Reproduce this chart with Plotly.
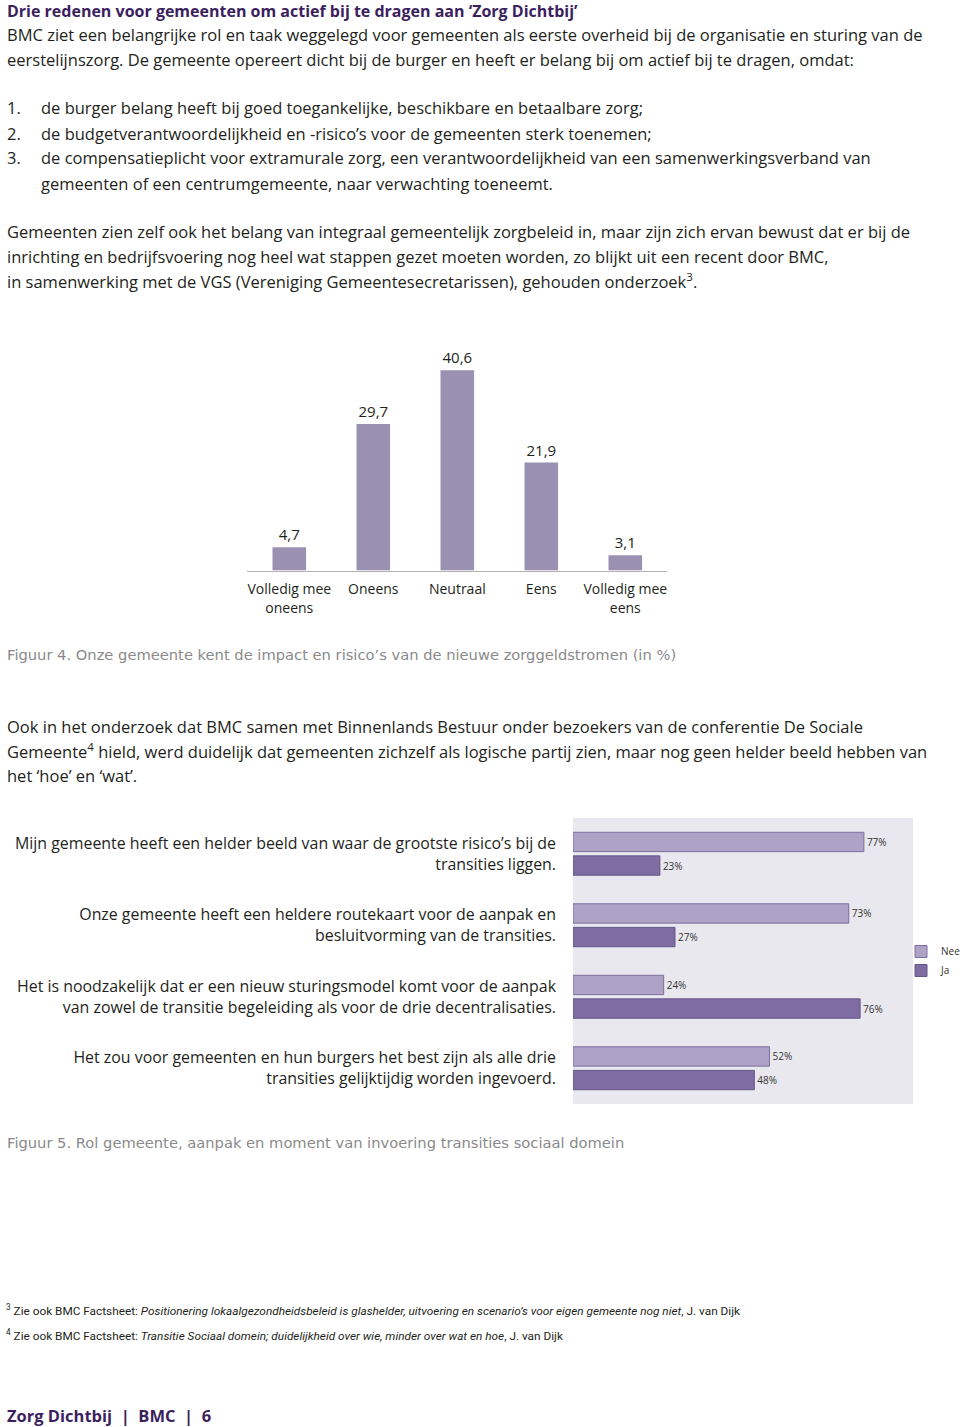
import plotly.graph_objects as go

W, H = 960, 1427

# ---------------- data ----------------
fig4_categories = ["Volledig mee<br>oneens", "Oneens", "Neutraal", "Eens", "Volledig mee<br>eens"]
fig4_values = [4.7, 29.7, 40.6, 21.9, 3.1]
fig4_labels = ["4,7", "29,7", "40,6", "21,9", "3,1"]

fig5_statements = [
    "Mijn gemeente heeft een helder beeld van waar de grootste risico’s bij de<br>transities liggen.",
    "Onze gemeente heeft een heldere routekaart voor de aanpak en<br>besluitvorming van de transities.",
    "Het is noodzakelijk dat er een nieuw sturingsmodel komt voor de aanpak<br>van zowel de transitie begeleiding als voor de drie decentralisaties.",
    "Het zou voor gemeenten en hun burgers het best zijn als alle drie<br>transities gelijktijdig worden ingevoerd.",
]
fig5_nee = [77, 73, 24, 52]
fig5_ja = [23, 27, 76, 48]

heading = "Drie redenen voor gemeenten om actief bij te dragen aan ‘Zorg Dichtbij’"
intro_lines = [
    "BMC ziet een belangrijke rol en taak weggelegd voor gemeenten als eerste overheid bij de organisatie en sturing van de",
    "eerstelijnszorg. De gemeente opereert dicht bij de burger en heeft er belang bij om actief bij te dragen, omdat:",
]
list_numbers = ["1.", "2.", "3.", ""]
list_lines = [
    "de burger belang heeft bij goed toegankelijke, beschikbare en betaalbare zorg;",
    "de budgetverantwoordelijkheid en -risico’s voor de gemeenten sterk toenemen;",
    "de compensatieplicht voor extramurale zorg, een verantwoordelijkheid van een samenwerkingsverband van",
    "gemeenten of een centrumgemeente, naar verwachting toeneemt.",
]
para1_lines = [
    "Gemeenten zien zelf ook het belang van integraal gemeentelijk zorgbeleid in, maar zijn zich ervan bewust dat er bij de",
    "inrichting en bedrijfsvoering nog heel wat stappen gezet moeten worden, zo blijkt uit een recent door BMC,",
    "in samenwerking met de VGS (Vereniging Gemeentesecretarissen), gehouden onderzoek<sup>3</sup>.",
]
caption4 = "Figuur 4. Onze gemeente kent de impact en risico’s van de nieuwe zorggeldstromen (in %)"
para2_lines = [
    "Ook in het onderzoek dat BMC samen met Binnenlands Bestuur onder bezoekers van de conferentie De Sociale",
    "Gemeente<sup>4</sup> hield, werd duidelijk dat gemeenten zichzelf als logische partij zien, maar nog geen helder beeld hebben van",
    "het ‘hoe’ en ‘wat’.",
]
caption5 = "Figuur 5. Rol gemeente, aanpak en moment van invoering transities sociaal domein"
footnotes = [
    "<sup>3</sup> Zie ook BMC Factsheet: <i>Positionering lokaalgezondheidsbeleid is glashelder, uitvoering en scenario’s voor eigen gemeente nog niet</i>, J. van Dijk",
    "<sup>4</sup> Zie ook BMC Factsheet: <i>Transitie Sociaal domein; duidelijkheid over wie, minder over wat en hoe</i>, J. van Dijk",
]
footer = "Zorg Dichtbij  |  BMC  |  6"

# ---------------- styles ----------------
BODY_FONT = "Open Sans"
BODY_SIZE = 16.5
TEXT = "#231f20"
PURPLE = "#3c1f5e"
GREY = "#8a8a8a"


def px(x):
    return x / W


def py(y):
    return 1 - y / H


fig = go.Figure()

# Figure 4: vertical bars
fig.add_trace(go.Bar(
    x=fig4_categories, y=fig4_values, text=fig4_labels,
    textposition="outside", cliponaxis=False, width=0.4,
    marker=dict(color="#9a90b1", line=dict(width=0)),
    textfont=dict(family=BODY_FONT, size=15, color=TEXT),
    xaxis="x", yaxis="y", showlegend=False, hoverinfo="skip",
))

# Figure 5: horizontal grouped bars
fig.add_trace(go.Bar(
    y=fig5_statements, x=fig5_nee, name="Nee", orientation="h",
    text=[f"{v}%" for v in fig5_nee], textposition="outside", cliponaxis=False,
    marker=dict(color="#aea3c7", line=dict(color="#7d6f9e", width=1)),
    textfont=dict(family="Open Sans", size=10, color="#333333"),
    xaxis="x2", yaxis="y2",
))
fig.add_trace(go.Bar(
    y=fig5_statements, x=fig5_ja, name="Ja", orientation="h",
    text=[f"{v}%" for v in fig5_ja], textposition="outside", cliponaxis=False,
    marker=dict(color="#7f6ca3", line=dict(color="#65568a", width=1)),
    textfont=dict(family="Open Sans", size=10, color="#333333"),
    xaxis="x2", yaxis="y2",
))

annotations = []


def add_text(x, y, text, size=BODY_SIZE, color=TEXT, family=BODY_FONT):
    annotations.append(dict(
        x=px(x), y=py(y), xref="paper", yref="paper", text=text,
        showarrow=False, xanchor="left", yanchor="middle", align="left",
        borderpad=0, font=dict(family=family, size=size, color=color),
    ))


LEFT = 6
add_text(LEFT, 11, "<b>" + heading + "</b>", size=16, color=PURPLE)
for i, line in enumerate(intro_lines):
    add_text(LEFT, 35 + i * 24.5, line)
for i, (n, line) in enumerate(zip(list_numbers, list_lines)):
    y = 108 + i * 25
    if n:
        add_text(LEFT, y, n)
    add_text(40, y, line)
for i, line in enumerate(para1_lines):
    add_text(LEFT, 232 + i * 24.5, line)
add_text(LEFT, 654, caption4, size=14.7, color=GREY, family="DejaVu Sans")
for i, line in enumerate(para2_lines):
    add_text(LEFT, 726 + i * 25, line)
add_text(LEFT, 1142, caption5, size=14.7, color=GREY, family="DejaVu Sans")
for i, line in enumerate(footnotes):
    add_text(5, 1310 + i * 25, line, size=11.8, color=TEXT, family="Roboto")
add_text(LEFT, 1415, "<b>" + footer + "</b>", size=16.5, color=PURPLE)

fig.update_layout(
    width=W, height=H,
    margin=dict(l=0, r=0, t=0, b=0, autoexpand=False),
    paper_bgcolor="white",
    plot_bgcolor="rgba(0,0,0,0)",
    barmode="group",
    bargap=0.34,
    bargroupgap=0.18,
    font=dict(family=BODY_FONT, color=TEXT),
    annotations=annotations,
    shapes=[dict(
        type="rect", xref="paper", yref="paper",
        x0=px(573), x1=px(913), y0=py(1104), y1=py(818),
        fillcolor="#e9e8ef", line=dict(width=0), layer="below",
    )],
    xaxis=dict(
        domain=[px(247.3), px(667.3)], anchor="y",
        range=[-0.5, 4.5], showgrid=False, zeroline=False,
        showline=True, linecolor="#b0b0b0", linewidth=1,
        ticks="", ticklabelstandoff=6,
        tickfont=dict(family=BODY_FONT, size=14, color=TEXT),
        fixedrange=True,
    ),
    yaxis=dict(
        domain=[py(570.5), py(348.6)], anchor="x",
        range=[0, 45], visible=False, fixedrange=True,
    ),
    xaxis2=dict(
        domain=[px(573), px(913)], anchor="y2",
        range=[0, 90], visible=False, fixedrange=True,
    ),
    yaxis2=dict(
        domain=[py(1104), py(818)], anchor="x2",
        autorange="reversed", showgrid=False, zeroline=False, showline=False,
        ticks="", ticklabelstandoff=16,
        tickfont=dict(family=BODY_FONT, size=15.9, color=TEXT),
        fixedrange=True,
    ),
    legend=dict(
        x=px(901), y=py(937), xanchor="left", yanchor="top",
        traceorder="normal", bgcolor="rgba(0,0,0,0)",
        font=dict(family="Open Sans", size=10, color="#333333"),
        itemwidth=30,
    ),
)

# Remove the browser's default 8px body margin so the figure fills the window exactly.
fig.write_html(
    "out.html",
    config={"displayModeBar": False},
    post_script="document.body.style.margin='0';document.body.style.padding='0';",
)
